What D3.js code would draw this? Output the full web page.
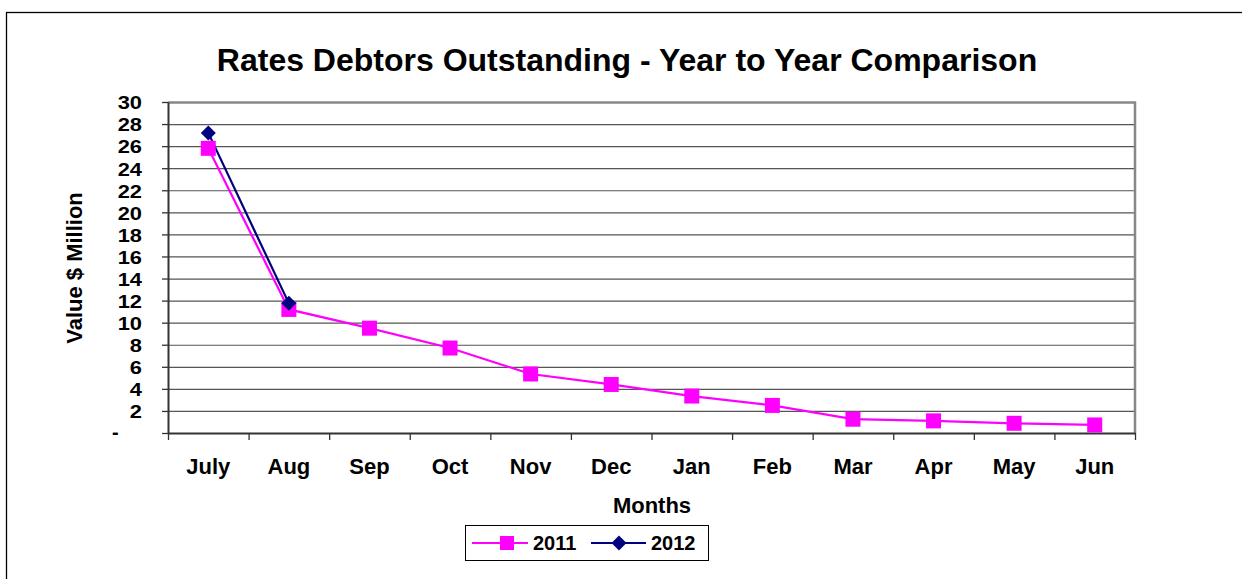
<!DOCTYPE html>
<html>
<head>
<meta charset="utf-8">
<script src="https://cdn.jsdelivr.net/npm/d3@7"></script>
<style>
  body { margin: 0; background: #fff; }
  text { font-family: "Liberation Sans", Arial, sans-serif; font-weight: bold; fill: #000; }
</style>
</head>
<body>
<div id="chart"></div>
<script>
// chart data
const months = ["July", "Aug", "Sep", "Oct", "Nov", "Dec", "Jan", "Feb", "Mar", "Apr", "May", "Jun"];
const values2011 = [25.8, 11.2, 9.5, 7.7, 5.35, 4.4, 3.35, 2.5, 1.25, 1.1, 0.88, 0.73];
const values2012 = [27.2, 11.75];
const yTicks = [0, 2, 4, 6, 8, 10, 12, 14, 16, 18, 20, 22, 24, 26, 28, 30];

function main() {
    const W = 1242, H = 579;
    const margin = {top: 102, right: 107, bottom: 146, left: 168},
        width = W - margin.left - margin.right,
        height = H - margin.top - margin.bottom;

    const root = d3.select("#chart")
        .append("svg")
        .attr("width", W)
        .attr("height", H);

    // outer chart border
    root.append("rect")
        .attr("x", 6.5).attr("y", 12.5)
        .attr("width", W + 20).attr("height", H + 20)
        .attr("fill", "none")
        .attr("stroke", "#000")
        .attr("stroke-width", 1.3);

    // title
    root.append("text")
        .attr("x", 627).attr("y", 71)
        .attr("text-anchor", "middle")
        .style("font-size", "32px")
        .text("Rates Debtors Outstanding - Year to Year Comparison");

    const svg = root.append("g")
        .attr("transform", `translate(${margin.left}, ${margin.top})`);

    const x = d3.scaleBand()
        .domain(months)
        .range([0, width]);

    const y = d3.scaleLinear()
        .domain([0, 30])
        .range([height, 0]);

    // gridlines
    svg.append("g")
        .selectAll("line")
        .data(yTicks.filter(d => d > 0 && d < 30))
        .enter()
        .append("line")
        .attr("x1", 0).attr("x2", width)
        .attr("y1", d => y(d) + 0.5).attr("y2", d => y(d) + 0.5)
        .attr("stroke", "#555")
        .attr("stroke-width", 1.2);

    // plot border (top/right gray)
    svg.append("path")
        .attr("d", `M0,0.5 H${width} V${height}`)
        .attr("fill", "none")
        .attr("stroke", "#888")
        .attr("stroke-width", 2.5);

    // y axis
    const yAxis = svg.append("g")
        .call(d3.axisLeft(y).tickValues(yTicks).tickSize(6).tickSizeOuter(0)
            .tickFormat(d => d === 0 ? "" : d));
    yAxis.select(".domain").attr("stroke", "#333").attr("stroke-width", 2);
    yAxis.selectAll(".tick line").attr("stroke", "#333").attr("stroke-width", 1.3);
    yAxis.selectAll(".tick text")
        .attr("x", -26)
        .attr("dy", "0.36em")
        .style("font-size", "19px")
        .style("font-family", "Liberation Sans, Arial, sans-serif")
        .attr("transform", "translate(-26, 0) scale(1.15, 1) translate(26, 0)");

    // zero label shown as dash
    svg.append("text")
        .attr("x", -56).attr("y", y(0) + 6)
        .style("font-size", "20px")
        .text("-");

    // x axis
    const xAxis = svg.append("g")
        .attr("transform", `translate(0, ${height})`)
        .call(d3.axisBottom(x).tickSize(0).tickSizeOuter(0));
    xAxis.select(".domain").attr("stroke", "#333").attr("stroke-width", 2);
    xAxis.selectAll(".tick text")
        .attr("y", 41)
        .attr("dy", "0")
        .style("font-size", "22px")
        .style("font-family", "Liberation Sans, Arial, sans-serif");

    // category boundary ticks
    svg.append("g")
        .selectAll("line")
        .data(months.concat(["end"]))
        .enter()
        .append("line")
        .attr("x1", (d, i) => i * x.step() + 0.5)
        .attr("x2", (d, i) => i * x.step() + 0.5)
        .attr("y1", height).attr("y2", height + 7)
        .attr("stroke", "#333")
        .attr("stroke-width", 1.3);

    // lines
    const line = d3.line()
        .x((d, i) => x(months[i]) + x.bandwidth() / 2)
        .y(d => y(d));

    svg.append("path")
        .datum(values2011)
        .attr("d", line)
        .attr("fill", "none")
        .attr("stroke", "#ff00ff")
        .attr("stroke-width", 2.2);

    svg.append("path")
        .datum(values2012)
        .attr("d", line)
        .attr("fill", "none")
        .attr("stroke", "#000080")
        .attr("stroke-width", 2.2);

    const sq = 15;
    svg.append("g")
        .selectAll("rect")
        .data(values2011)
        .enter()
        .append("rect")
        .attr("x", (d, i) => x(months[i]) + x.bandwidth() / 2 - sq / 2)
        .attr("y", d => y(d) - sq / 2)
        .attr("width", sq).attr("height", sq)
        .attr("fill", "#ff00ff");

    // diamond marker path
    const diamond = "M0,-7.5 L7.5,0 L0,7.5 L-7.5,0 Z";
    svg.append("g")
        .selectAll("path")
        .data(values2012)
        .enter()
        .append("path")
        .attr("d", diamond)
        .attr("transform", (d, i) => `translate(${x(months[i]) + x.bandwidth() / 2}, ${y(d)})`)
        .attr("fill", "#000080");

    // axis titles
    root.append("text")
        .attr("x", 652).attr("y", 513)
        .attr("text-anchor", "middle")
        .style("font-size", "22px")
        .text("Months");

    root.append("text")
        .attr("transform", "translate(74, 268) rotate(-90)")
        .attr("text-anchor", "middle")
        .attr("dy", "0.35em")
        .style("font-size", "22px")
        .text("Value $ Million");

    // legend
    const lg = root.append("g");
    lg.append("rect")
        .attr("x", 465.5).attr("y", 525.5)
        .attr("width", 243).attr("height", 35)
        .attr("fill", "#fff")
        .attr("stroke", "#000")
        .attr("stroke-width", 1);

    lg.append("line")
        .attr("x1", 472).attr("x2", 528).attr("y1", 543).attr("y2", 543)
        .attr("stroke", "#ff00ff").attr("stroke-width", 2.2);
    lg.append("rect")
        .attr("x", 500).attr("y", 536).attr("width", 14).attr("height", 14)
        .attr("fill", "#ff00ff");
    lg.append("text")
        .attr("x", 533).attr("y", 550)
        .style("font-size", "20px")
        .text("2011");

    lg.append("line")
        .attr("x1", 591).attr("x2", 646).attr("y1", 543).attr("y2", 543)
        .attr("stroke", "#000080").attr("stroke-width", 2.2);
    lg.append("path")
        .attr("d", diamond)
        .attr("transform", "translate(619, 543)")
        .attr("fill", "#000080");
    lg.append("text")
        .attr("x", 651).attr("y", 550)
        .style("font-size", "20px")
        .text("2012");
}

main();
</script>
</body>
</html>
